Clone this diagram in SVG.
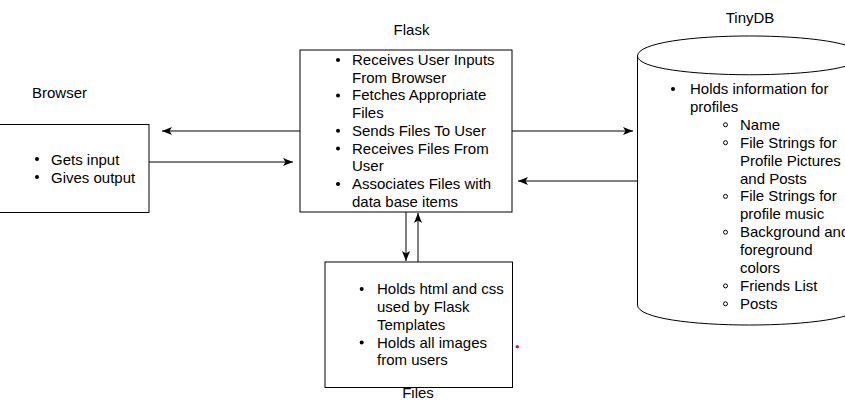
<svg xmlns="http://www.w3.org/2000/svg" width="845" height="409" viewBox="0 0 845 409">
<style>
text{font-family:"Liberation Sans",Arial,Helvetica,sans-serif;font-size:15px;fill:#000}
.box{fill:#fff;stroke:#000;stroke-width:1}
.ln{fill:none;stroke:#000;stroke-width:1}
.dot{fill:#000}
.sub{fill:none;stroke:#000;stroke-width:1}
</style>
<defs>
<marker id="arr" viewBox="0 0 10 8" refX="10" refY="4" markerWidth="10" markerHeight="8" markerUnits="userSpaceOnUse" orient="auto">
<path d="M0,0 L10,4 L0,8 L2.5,4 z" fill="#000"/>
</marker>
</defs>
<rect width="845" height="409" fill="#fff"/>
<g id="connectors">
<line class="ln" x1="300" y1="131" x2="162" y2="131" marker-end="url(#arr)"/>
<line class="ln" x1="149" y1="162" x2="293" y2="162" marker-end="url(#arr)"/>
<line class="ln" x1="512" y1="131" x2="633" y2="131" marker-end="url(#arr)"/>
<line class="ln" x1="637.5" y1="181" x2="518" y2="181" marker-end="url(#arr)"/>
<line class="ln" x1="406" y1="212" x2="406" y2="261" marker-end="url(#arr)"/>
<line class="ln" x1="418" y1="262" x2="418" y2="213" marker-end="url(#arr)"/>
</g>
<g id="browser">
<text x="32" y="98">Browser</text>
<rect class="box" x="-1" y="124.5" width="150" height="88"/>
<circle class="dot" cx="37" cy="159" r="2"/>
<text x="51" y="164.5">Gets input</text>
<circle class="dot" cx="37" cy="177" r="2"/>
<text x="51" y="182.5">Gives output</text>
</g>
<g id="flask">
<text x="411.5" y="35" text-anchor="middle">Flask</text>
<rect class="box" x="300" y="50" width="212" height="162"/>
<circle class="dot" cx="338" cy="60" r="2"/>
<text x="352" y="65">Receives User Inputs</text>
<text x="352" y="82.7">From Browser</text>
<circle class="dot" cx="338" cy="95.4" r="2"/>
<text x="352" y="100.4">Fetches Appropriate</text>
<text x="352" y="118.1">Files</text>
<circle class="dot" cx="338" cy="130.8" r="2"/>
<text x="352" y="135.8">Sends Files To User</text>
<circle class="dot" cx="338" cy="148.5" r="2"/>
<text x="352" y="153.5">Receives Files From</text>
<text x="352" y="171.2">User</text>
<circle class="dot" cx="338" cy="183.9" r="2"/>
<text x="352" y="188.9">Associates Files with</text>
<text x="352" y="206.6">data base items</text>
</g>
<g id="tinydb">
<text x="750" y="22.5" text-anchor="middle">TinyDB</text>
<path class="box" d="M637.5,56 C637.5,29.3 861.5,29.3 861.5,56 L861.5,305 C861.5,331.7 637.5,331.7 637.5,305 Z"/>
<path class="ln" d="M637.5,56 C637.5,81 861.5,81 861.5,56"/>
<circle class="dot" cx="673" cy="89" r="2"/>
<text x="690" y="94">Holds information for</text>
<text x="690" y="111.9">profiles</text>
<circle class="sub" cx="725.5" cy="124.8" r="2"/>
<text x="740" y="129.8">Name</text>
<circle class="sub" cx="725.5" cy="142.7" r="2"/>
<text x="740" y="147.7">File Strings for</text>
<text x="740" y="165.6">Profile Pictures</text>
<text x="740" y="183.5">and Posts</text>
<circle class="sub" cx="725.5" cy="196.4" r="2"/>
<text x="740" y="201.4">File Strings for</text>
<text x="740" y="219.3">profile music</text>
<circle class="sub" cx="725.5" cy="232.2" r="2"/>
<text x="740" y="237.2">Background and</text>
<text x="740" y="255.1">foreground</text>
<text x="740" y="273">colors</text>
<circle class="sub" cx="725.5" cy="285.9" r="2"/>
<text x="740" y="290.9">Friends List</text>
<circle class="sub" cx="725.5" cy="303.8" r="2"/>
<text x="740" y="308.8">Posts</text>
</g>
<g id="files">
<rect class="box" x="325" y="262" width="187.5" height="125.5"/>
<circle class="dot" cx="361.7" cy="289" r="2"/>
<text x="377" y="294">Holds html and css</text>
<text x="377" y="311.8">used by Flask</text>
<text x="377" y="329.7">Templates</text>
<circle class="dot" cx="361.7" cy="342.5" r="2"/>
<text x="377" y="347.5">Holds all images</text>
<text x="377" y="365.4">from users</text>
<text x="418" y="397.5" text-anchor="middle">Files</text>
</g>
<circle cx="517.3" cy="346.7" r="1.6" fill="#d01020"/>
</svg>
